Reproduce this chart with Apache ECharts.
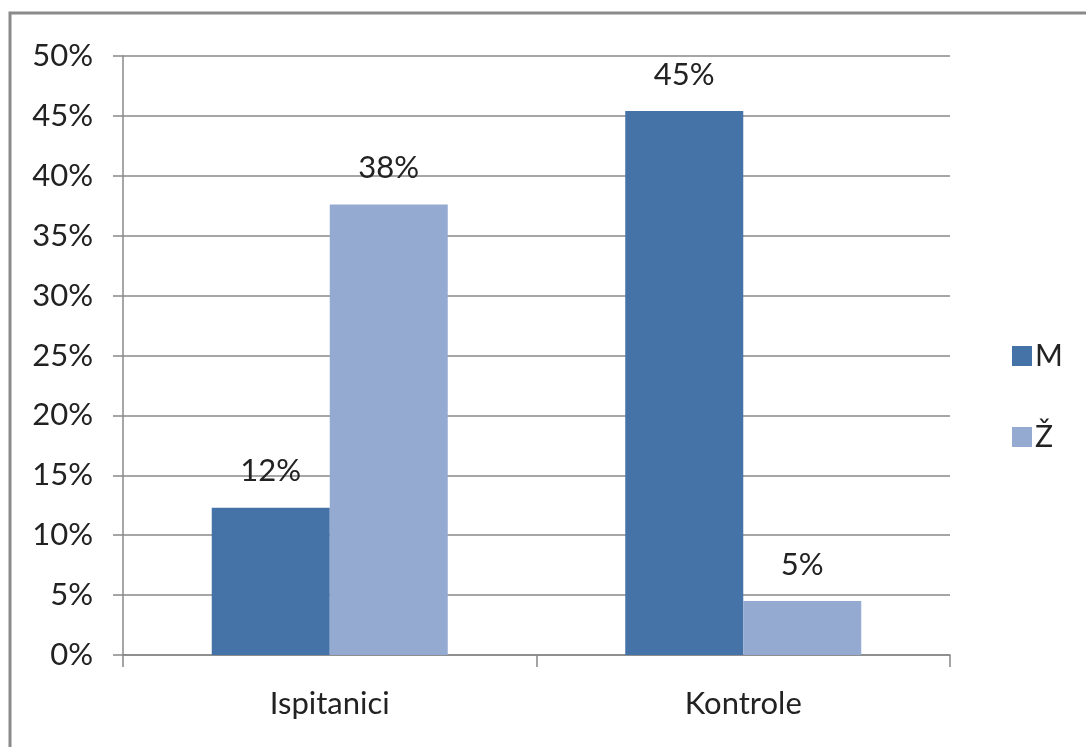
<!DOCTYPE html>
<html><head><meta charset="utf-8">
<script src="https://cdn.jsdelivr.net/npm/echarts@6/dist/echarts.min.js"></script>
<style>html,body{margin:0;padding:0;background:#fff}#c{width:1086px;height:747px}</style>
</head><body><div id="c"></div>
<script>
const categories = ['Ispitanici', 'Kontrole'];
const seriesNames = ['M', 'Ž'];
const valuesM = [12.3, 45.4];
const valuesZ = [37.6, 4.5];
const yTicks = [0, 5, 10, 15, 20, 25, 30, 35, 40, 45, 50];

const font = 'Lato, "Open Sans", sans-serif';
const chart = echarts.init(document.getElementById('c'), null, {renderer: 'canvas'});
const labelCfg = {
  show: true, position: 'top', distance: 21,
  formatter: p => Math.round(p.value) + '%',
  fontFamily: font, fontSize: 31, color: '#222'
};
chart.setOption({
  animation: false,
  backgroundColor: '#fff',
  graphic: [{
    type: 'polyline',
    shape: {points: [[10, 760], [10, 13], [1100, 13]]},
    style: {stroke: '#8a8a8a', lineWidth: 3, fill: null}
  }],
  grid: {left: 123, right: 136, top: 56, bottom: 92, containLabel: false},
  legend: {
    orient: 'vertical', left: 1007, top: 336,
    itemWidth: 20, itemHeight: 20, itemGap: 51,
    icon: 'rect',
    textStyle: {fontFamily: font, fontSize: 30, color: '#222', padding: [0, 0, 0, -2]},
    data: seriesNames
  },
  xAxis: {
    type: 'category', data: categories,
    axisLine: {lineStyle: {color: '#888', width: 1.5}},
    axisTick: {show: true, length: 12, inside: false, lineStyle: {color: '#888', width: 1.5}},
    axisLabel: {fontFamily: font, fontSize: 31, color: '#222', margin: 33}
  },
  yAxis: {
    type: 'value', min: 0, max: 50, interval: 5,
    axisLine: {show: true, lineStyle: {color: '#888', width: 1.5}},
    axisTick: {show: true, length: 10, lineStyle: {color: '#888', width: 1.5}},
    splitLine: {lineStyle: {color: '#888', width: 1.5}},
    axisLabel: {fontFamily: font, fontSize: 31, color: '#222', margin: 30,
      formatter: v => yTicks.includes(v) ? v + '%' : ''}
  },
  series: [
    {name: seriesNames[0], type: 'bar', data: valuesM, barWidth: 118, barGap: '0%',
     itemStyle: {color: '#4572a7'}, label: labelCfg},
    {name: seriesNames[1], type: 'bar', data: valuesZ, barWidth: 118, barGap: '0%',
     itemStyle: {color: '#95aad1'}, label: labelCfg}
  ]
});
</script></body></html>
